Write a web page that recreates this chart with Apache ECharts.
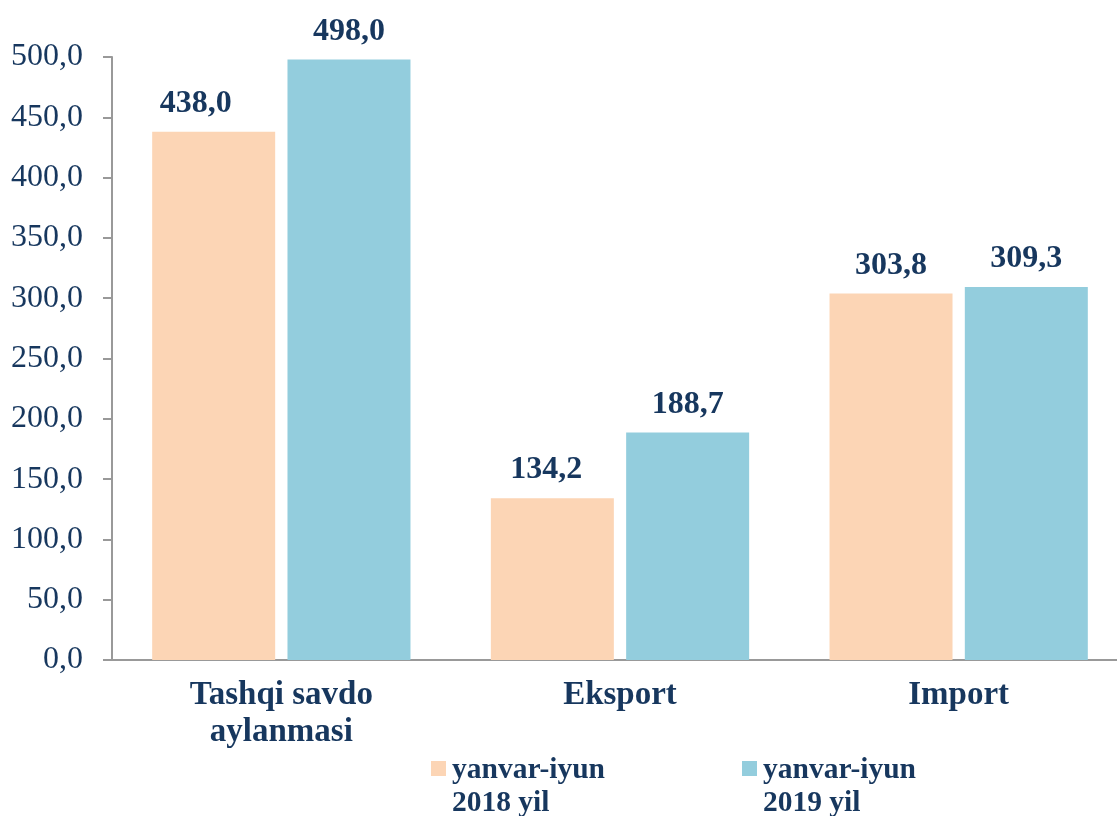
<!DOCTYPE html>
<html>
<head>
<meta charset="utf-8">
<script src="https://cdn.jsdelivr.net/npm/echarts@6/dist/echarts.min.js"></script>
<style>
html,body{margin:0;padding:0;background:#fff;}
#chart{width:1117px;height:816px;}
</style>
</head>
<body>
<div id="chart"></div>
<script>
const categories = ['Tashqi savdo\naylanmasi', 'Eksport', 'Import'];
const seriesNames = ['yanvar-iyun\n2018 yil', 'yanvar-iyun\n2019 yil'];
const values2018 = [438.0, 134.2, 303.8];
const values2019 = [498.0, 188.7, 309.3];
const yTicks = { min: 0, max: 500, interval: 50 };

const NAVY = '#17375E';
const FONT = "'Liberation Serif', 'Times New Roman', serif";
const fmt = v => Number(v).toFixed(1).replace('.', ',');
const legendIcon = 'path://M0,0H10V10H0Z M0,34.66H0.001V34.67H0Z';

const chart = echarts.init(document.getElementById('chart'), null, { renderer: 'canvas' });
const labelStyle = {
  show: true, position: 'top', distance: 12,
  color: NAVY, fontFamily: FONT, fontWeight: 'bold', fontSize: 32,
  formatter: p => fmt(p.value)
};
const legendBase = {
  orient: 'horizontal', top: 754, padding: 0,
  itemWidth: 15, itemHeight: 52, itemGap: 6,
  icon: legendIcon, selectedMode: false,
  textStyle: { color: NAVY, fontFamily: FONT, fontWeight: 'bold', fontSize: 29.5, lineHeight: 33, padding: [0, 0, 0, 1] }
};
const data2018 = values2018.map((v, i) => i === 0 ? { value: v, label: { offset: [-18, 0] } } : (i === 1 ? { value: v, label: { offset: [-6, 0] } } : v));
chart.setOption({
  animation: false,
  backgroundColor: '#fff',
  grid: { left: 112, top: 57, width: 1016, bottom: 156, containLabel: false, outerBoundsMode: 'none' },
  legend: [
    Object.assign({}, legendBase, { left: 431, data: [seriesNames[0]] }),
    Object.assign({}, legendBase, { left: 742, data: [seriesNames[1]] })
  ],
  xAxis: {
    type: 'category', data: categories,
    axisLine: { lineStyle: { color: '#999', width: 2 } },
    axisTick: { show: false },
    axisLabel: { color: NAVY, fontFamily: FONT, fontWeight: 'bold', fontSize: 33, lineHeight: 37, margin: 17 }
  },
  yAxis: {
    type: 'value', min: yTicks.min, max: yTicks.max, interval: yTicks.interval,
    axisLine: { show: true, lineStyle: { color: '#999', width: 2 } },
    axisTick: { show: true, length: 9, lineStyle: { color: '#999', width: 2 } },
    splitLine: { show: false },
    axisLabel: { color: NAVY, fontFamily: FONT, fontSize: 32, margin: 29, formatter: v => fmt(v) }
  },
  series: [
    { name: seriesNames[0], type: 'bar', data: data2018, barWidth: 123, barGap: '10%',
      itemStyle: { color: '#FCD5B5' }, label: labelStyle },
    { name: seriesNames[1], type: 'bar', data: values2019, barWidth: 123,
      itemStyle: { color: '#93CDDD' }, label: labelStyle }
  ]
});
</script>
</body>
</html>
